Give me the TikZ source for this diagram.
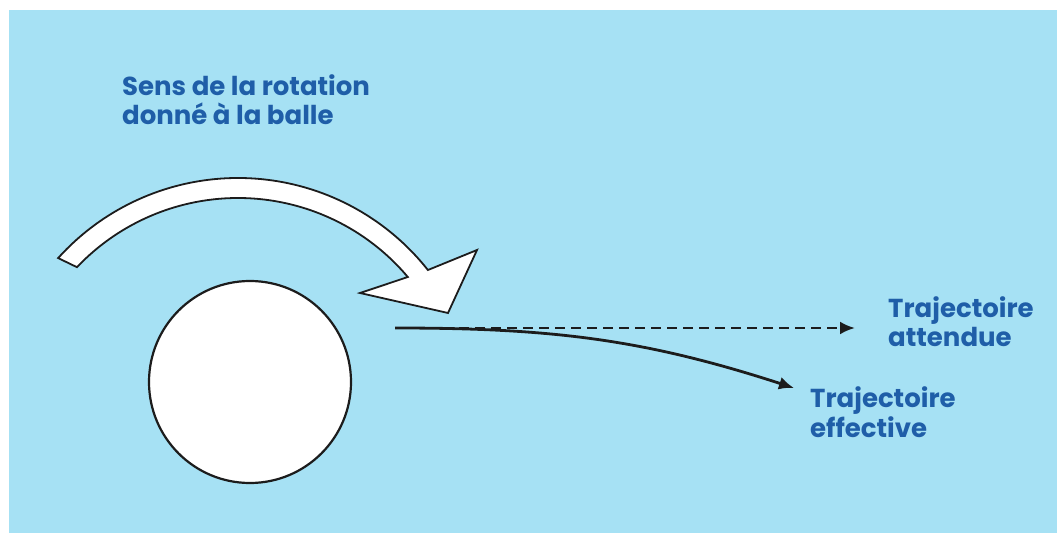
\documentclass[tikz,border=0pt]{standalone}
\usepackage{fontspec}
\setmainfont{Poppins}
\usetikzlibrary{arrows.meta,calc}
\definecolor{fond}{HTML}{A6E1F4}
\definecolor{texte}{HTML}{1F5EA8}
\definecolor{trait}{HTML}{1C1C1C}

\begin{document}
\begin{tikzpicture}[x=1pt, y=1pt,
    legende/.style={anchor=base west, align=left, inner sep=0pt, text=texte, font=\bfseries\fontsize{26}{29.5}\selectfont},
    trajet/.style={line width=2.8pt, draw=trait, -{Latex[length=15pt,width=13pt]}}]
    \useasboundingbox (0,0) rectangle (1057,533);
    \fill[white] (0,0) rectangle (1057,533);
    \fill[fond] (9,0) rectangle (1057,523);

    %la balle
    \node (balle) at (250,151) [circle, draw=trait, line width=2.2pt, fill=white, minimum size=202pt, inner sep=0pt] {};

    %fleche de rotation (contour blanc)
    \coordinate (rc) at (238,113);
    \coordinate (pointe) at (448,220);
    \draw[line width=1.8pt, draw=trait, fill=white, line join=miter]
        ($(rc)+(138:242)$) arc[start angle=138, end angle=38.3, radius=242]
        -- (477,283) -- (pointe) -- (360,240)
        -- ($(rc)+(40.1:222)$) arc[start angle=40.1, end angle=136.5, radius=222] -- cycle;

    %trajectoires
    \coordinate (depart) at (395,205);
    \coordinate (attendue) at (855,205);
    \coordinate (effective) at (794,145);
    \draw[trajet, dash pattern=on 10pt off 6pt] (depart) -- (attendue);
    \draw[trajet] (depart) to[out=0, in=162] (effective);

    %legendes (ancre = ligne de base de la derniere ligne)
    \node (sens) at (122,408) [legende] {Sens de la rotation\\donné à la balle};
    \node (txtattendue) at (888,186) [legende] {Trajectoire\\attendue};
    \node (txteffective) at (810,96) [legende] {Trajectoire\\effective};
\end{tikzpicture}
\end{document}
